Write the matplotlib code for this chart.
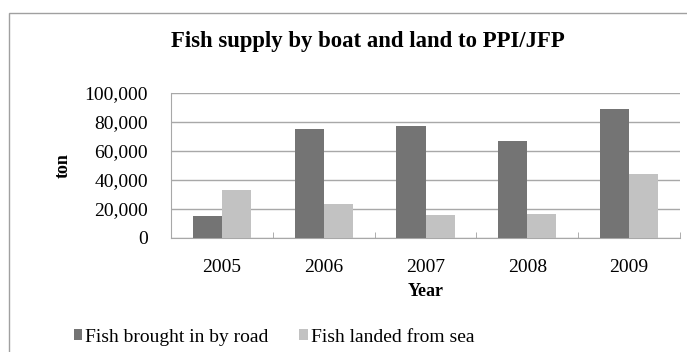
import matplotlib
matplotlib.use("Agg")
import matplotlib.pyplot as plt
import numpy as np
from matplotlib.ticker import FuncFormatter
from matplotlib.patches import Rectangle

years = ["2005", "2006", "2007", "2008", "2009"]
road = [15500, 75000, 77000, 67000, 89000]
sea = [33000, 23500, 16000, 16500, 44000]
series_names = ["Fish brought in by road", "Fish landed from sea"]
colors = ["#747474", "#c2c2c2"]

plt.rcParams["font.family"] = ["Liberation Serif", "DejaVu Serif"]

fig = plt.figure(figsize=(6.87, 3.52), dpi=100)
ax = fig.add_axes([171 / 687, 1 - 238 / 352, 509 / 687, 145 / 352])

# outer chart border (only top and left edges fall inside the figure)
fig.patches.append(Rectangle((9 / 687, -0.1), 1.2, 1 - 13 / 352 + 0.1,
                             transform=fig.transFigure, fill=False,
                             edgecolor="#a0a0a0", linewidth=1.0))

x = np.arange(len(years))
w = 0.285
ax.bar(x - w / 2, road, w, color=colors[0], label=series_names[0], zorder=3)
ax.bar(x + w / 2, sea, w, color=colors[1], label=series_names[1], zorder=3)

ax.set_xlim(-0.5, len(years) - 0.5)
ax.set_ylim(0, 100000)
ax.set_yticks(np.arange(0, 100001, 20000))
ax.yaxis.set_major_formatter(FuncFormatter(lambda v, p: f"{int(v):,}"))
ax.set_xticks(x)
ax.set_xticklabels(years)
ax.set_xticks(np.arange(-0.5, len(years), 1), minor=True)
ax.tick_params(axis="x", which="major", length=0, pad=15, labelsize=14)
ax.tick_params(axis="x", which="minor", length=4, direction="in", color="#a0a0a0")
ax.tick_params(axis="y", length=0, pad=16.5, labelsize=14)

ax.grid(axis="y", color="#a8a8a8", linewidth=1.0, zorder=0)
for s in ["top", "right"]:
    ax.spines[s].set_visible(False)
ax.spines["left"].set_color("#a8a8a8")
ax.spines["bottom"].set_color("#a8a8a8")

ax.set_ylabel("ton", fontsize=13, fontweight="bold", labelpad=9)
ax.set_xlabel("Year", fontsize=13, fontweight="bold", labelpad=5)
fig.text(368 / 687, 1 - 42 / 352, "Fish supply by boat and land to PPI/JFP",
         ha="center", va="center", fontsize=16.4, fontweight="bold")

fig.legend(loc="center left", bbox_to_anchor=(56 / 687, 1 - 337 / 352),
           ncol=2, frameon=False, fontsize=14, handlelength=0.46,
           handleheight=0.46, handletextpad=0.15, columnspacing=1.55)

fig.savefig("out.png", dpi=100)
